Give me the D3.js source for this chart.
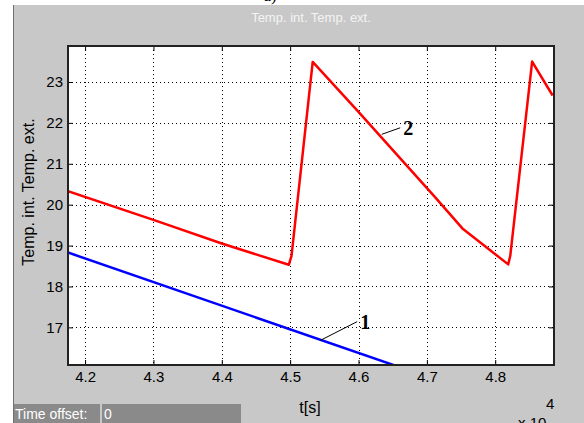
<!DOCTYPE html>
<html>
<head>
<meta charset="utf-8">
<script src="https://cdn.jsdelivr.net/npm/d3@7"></script>
<style>
  body { margin: 0; background: #fff; }
  svg text { font-family: "Liberation Sans", Arial, sans-serif; }
</style>
</head>
<body>
<svg id="graph" width="584" height="423"></svg>
<script>
// x values are in units of 10^4 s
var xTicks = [4.2, 4.3, 4.4, 4.5, 4.6, 4.7, 4.8];
var yTicks = [17, 18, 19, 20, 21, 22, 23];

// curve 2 : temp. int.
var redX = [4.175, 4.30, 4.40, 4.498, 4.502, 4.533, 4.60, 4.71, 4.752, 4.819, 4.822, 4.854, 4.884];
var redY = [20.33, 19.63, 19.05, 18.53, 18.75, 23.49, 22.27, 20.22, 19.42, 18.54, 18.75, 23.5, 22.67];

// curve 1 : temp. ext.
var blueX = [4.175, 4.665];
var blueY = [18.83, 16.0];

var svg = d3.select("#graph");

//Gray figure background
svg.append("rect")
    .attr("x", 13).attr("y", 5)
    .attr("width", 571).attr("height", 418)
    .attr("fill", "#c8c8c8");
svg.append("line")
    .attr("x1", 13.5).attr("x2", 13.5)
    .attr("y1", 5).attr("y2", 423)
    .attr("stroke", "#707070");

// "a)" caption, mostly cut off at the top
svg.append("text")
    .attr("x", 270).attr("y", 1)
    .attr("text-anchor", "middle")
    .style("font-family", "'Liberation Serif', serif")
    .style("font-size", "17px")
    .text("a)");

//Plot area
var box = {left: 68, top: 46, right: 554, bottom: 365};

var xScale = d3.scaleLinear()
    .domain([4.175, 4.886])
    .range([box.left, box.right]);

var yScale = d3.scaleLinear()
    .domain([16.08, 23.88])
    .range([box.bottom, box.top]);

svg.append("rect")
    .attr("x", box.left).attr("y", box.top)
    .attr("width", box.right - box.left)
    .attr("height", box.bottom - box.top)
    .attr("fill", "#fff");

//Dotted grid
svg.append("g")
    .selectAll("line")
    .data(xTicks)
    .enter()
    .append("line")
    .attr("x1", function(d){ return Math.round(xScale(d)) + 0.5; })
    .attr("x2", function(d){ return Math.round(xScale(d)) + 0.5; })
    .attr("y1", box.top).attr("y2", box.bottom)
    .attr("stroke", "#000")
    .attr("stroke-dasharray", "1,3");

svg.append("g")
    .selectAll("line")
    .data(yTicks)
    .enter()
    .append("line")
    .attr("y1", function(d){ return Math.round(yScale(d)) + 0.5; })
    .attr("y2", function(d){ return Math.round(yScale(d)) + 0.5; })
    .attr("x1", box.left).attr("x2", box.right)
    .attr("stroke", "#000")
    .attr("stroke-dasharray", "1,3");

//Axes with inward ticks
var xAxisB = d3.axisBottom(xScale).tickValues(xTicks).tickSizeInner(-5).tickSizeOuter(0).tickPadding(6).tickFormat(d3.format(".1f"));
var xAxisT = d3.axisTop(xScale).tickValues(xTicks).tickSizeInner(-5).tickSizeOuter(0).tickFormat("");
var yAxisL = d3.axisLeft(yScale).tickValues(yTicks).tickSizeInner(-5).tickSizeOuter(0).tickPadding(5);
var yAxisR = d3.axisRight(yScale).tickValues(yTicks).tickSizeInner(-5).tickSizeOuter(0).tickFormat("");

var axes = [
    svg.append("g").attr("transform", "translate(0," + box.bottom + ")").call(xAxisB),
    svg.append("g").attr("transform", "translate(0," + box.top + ")").call(xAxisT),
    svg.append("g").attr("transform", "translate(" + box.left + ",0)").call(yAxisL),
    svg.append("g").attr("transform", "translate(" + box.right + ",0)").call(yAxisR)
];
axes.forEach(function(g){
    g.select(".domain").remove();
    g.selectAll("line").attr("stroke", "#000");
    g.selectAll("text")
        .attr("fill", "#000")
        .style("font-size", "15px");
});

//Curves, clipped to the box
svg.append("clipPath").attr("id", "clip")
    .append("rect")
    .attr("x", box.left).attr("y", box.top)
    .attr("width", box.right - box.left)
    .attr("height", box.bottom - box.top);

var line = d3.line()
    .x(function(d){ return xScale(d[0]); })
    .y(function(d){ return yScale(d[1]); });

svg.append("path")
    .datum(d3.zip(blueX, blueY))
    .attr("d", line)
    .attr("clip-path", "url(#clip)")
    .attr("fill", "none")
    .attr("stroke", "#0000ff")
    .attr("stroke-width", 2.5);

svg.append("path")
    .datum(d3.zip(redX, redY))
    .attr("d", line)
    .attr("clip-path", "url(#clip)")
    .attr("fill", "none")
    .attr("stroke", "#ff0000")
    .attr("stroke-width", 2.5)
    .attr("stroke-linejoin", "round");

//Box border
svg.append("rect")
    .attr("x", box.left).attr("y", box.top)
    .attr("width", box.right - box.left)
    .attr("height", box.bottom - box.top)
    .attr("fill", "none")
    .attr("stroke", "#222")
    .attr("stroke-width", 2);

//Curve labels with leader lines
var labels = [
    {t: "1", x0: 4.544, y0: 16.68, x1: 4.598, y1: 17.14},
    {t: "2", x0: 4.634, y0: 21.72, x1: 4.661, y1: 21.88}
];
labels.forEach(function(l){
    svg.append("line")
        .attr("x1", xScale(l.x0)).attr("y1", yScale(l.y0))
        .attr("x2", xScale(l.x1)).attr("y2", yScale(l.y1))
        .attr("stroke", "#000").attr("stroke-width", 1);
    svg.append("text")
        .attr("x", xScale(l.x1) + 3)
        .attr("y", yScale(l.y1) + 7)
        .style("font-family", "'Liberation Serif', 'Times New Roman', serif")
        .style("font-weight", "bold")
        .style("font-size", "20px")
        .text(l.t);
});

//Titles
svg.append("text")
    .attr("x", 311).attr("y", 22)
    .attr("text-anchor", "middle")
    .attr("fill", "#f4f4f4")
    .style("font-size", "13px")
    .text("Temp. int. Temp. ext.");

svg.append("text")
    .attr("transform", "translate(34,192) rotate(-90)")
    .attr("text-anchor", "middle")
    .style("font-size", "16px")
    .text("Temp. int. Temp. ext.");

svg.append("text")
    .attr("x", 310).attr("y", 413)
    .attr("text-anchor", "middle")
    .style("font-size", "16px")
    .text("t[s]");

svg.append("text")
    .attr("x", 518).attr("y", 428)
    .style("font-size", "15px")
    .text("x 10");
svg.append("text")
    .attr("x", 546).attr("y", 409)
    .style("font-size", "15px")
    .text("4");

//Time offset control
svg.append("rect")
    .attr("x", 14).attr("y", 404)
    .attr("width", 86).attr("height", 19)
    .attr("fill", "#8a8a8a");
svg.append("rect")
    .attr("x", 102).attr("y", 404)
    .attr("width", 139).attr("height", 19)
    .attr("fill", "#8a8a8a");
svg.append("text")
    .attr("x", 15).attr("y", 419)
    .attr("fill", "#fff")
    .style("font-size", "14px")
    .text("Time offset:");
svg.append("text")
    .attr("x", 104).attr("y", 419)
    .attr("fill", "#fff")
    .style("font-size", "14px")
    .text("0");
</script>
</body>
</html>
